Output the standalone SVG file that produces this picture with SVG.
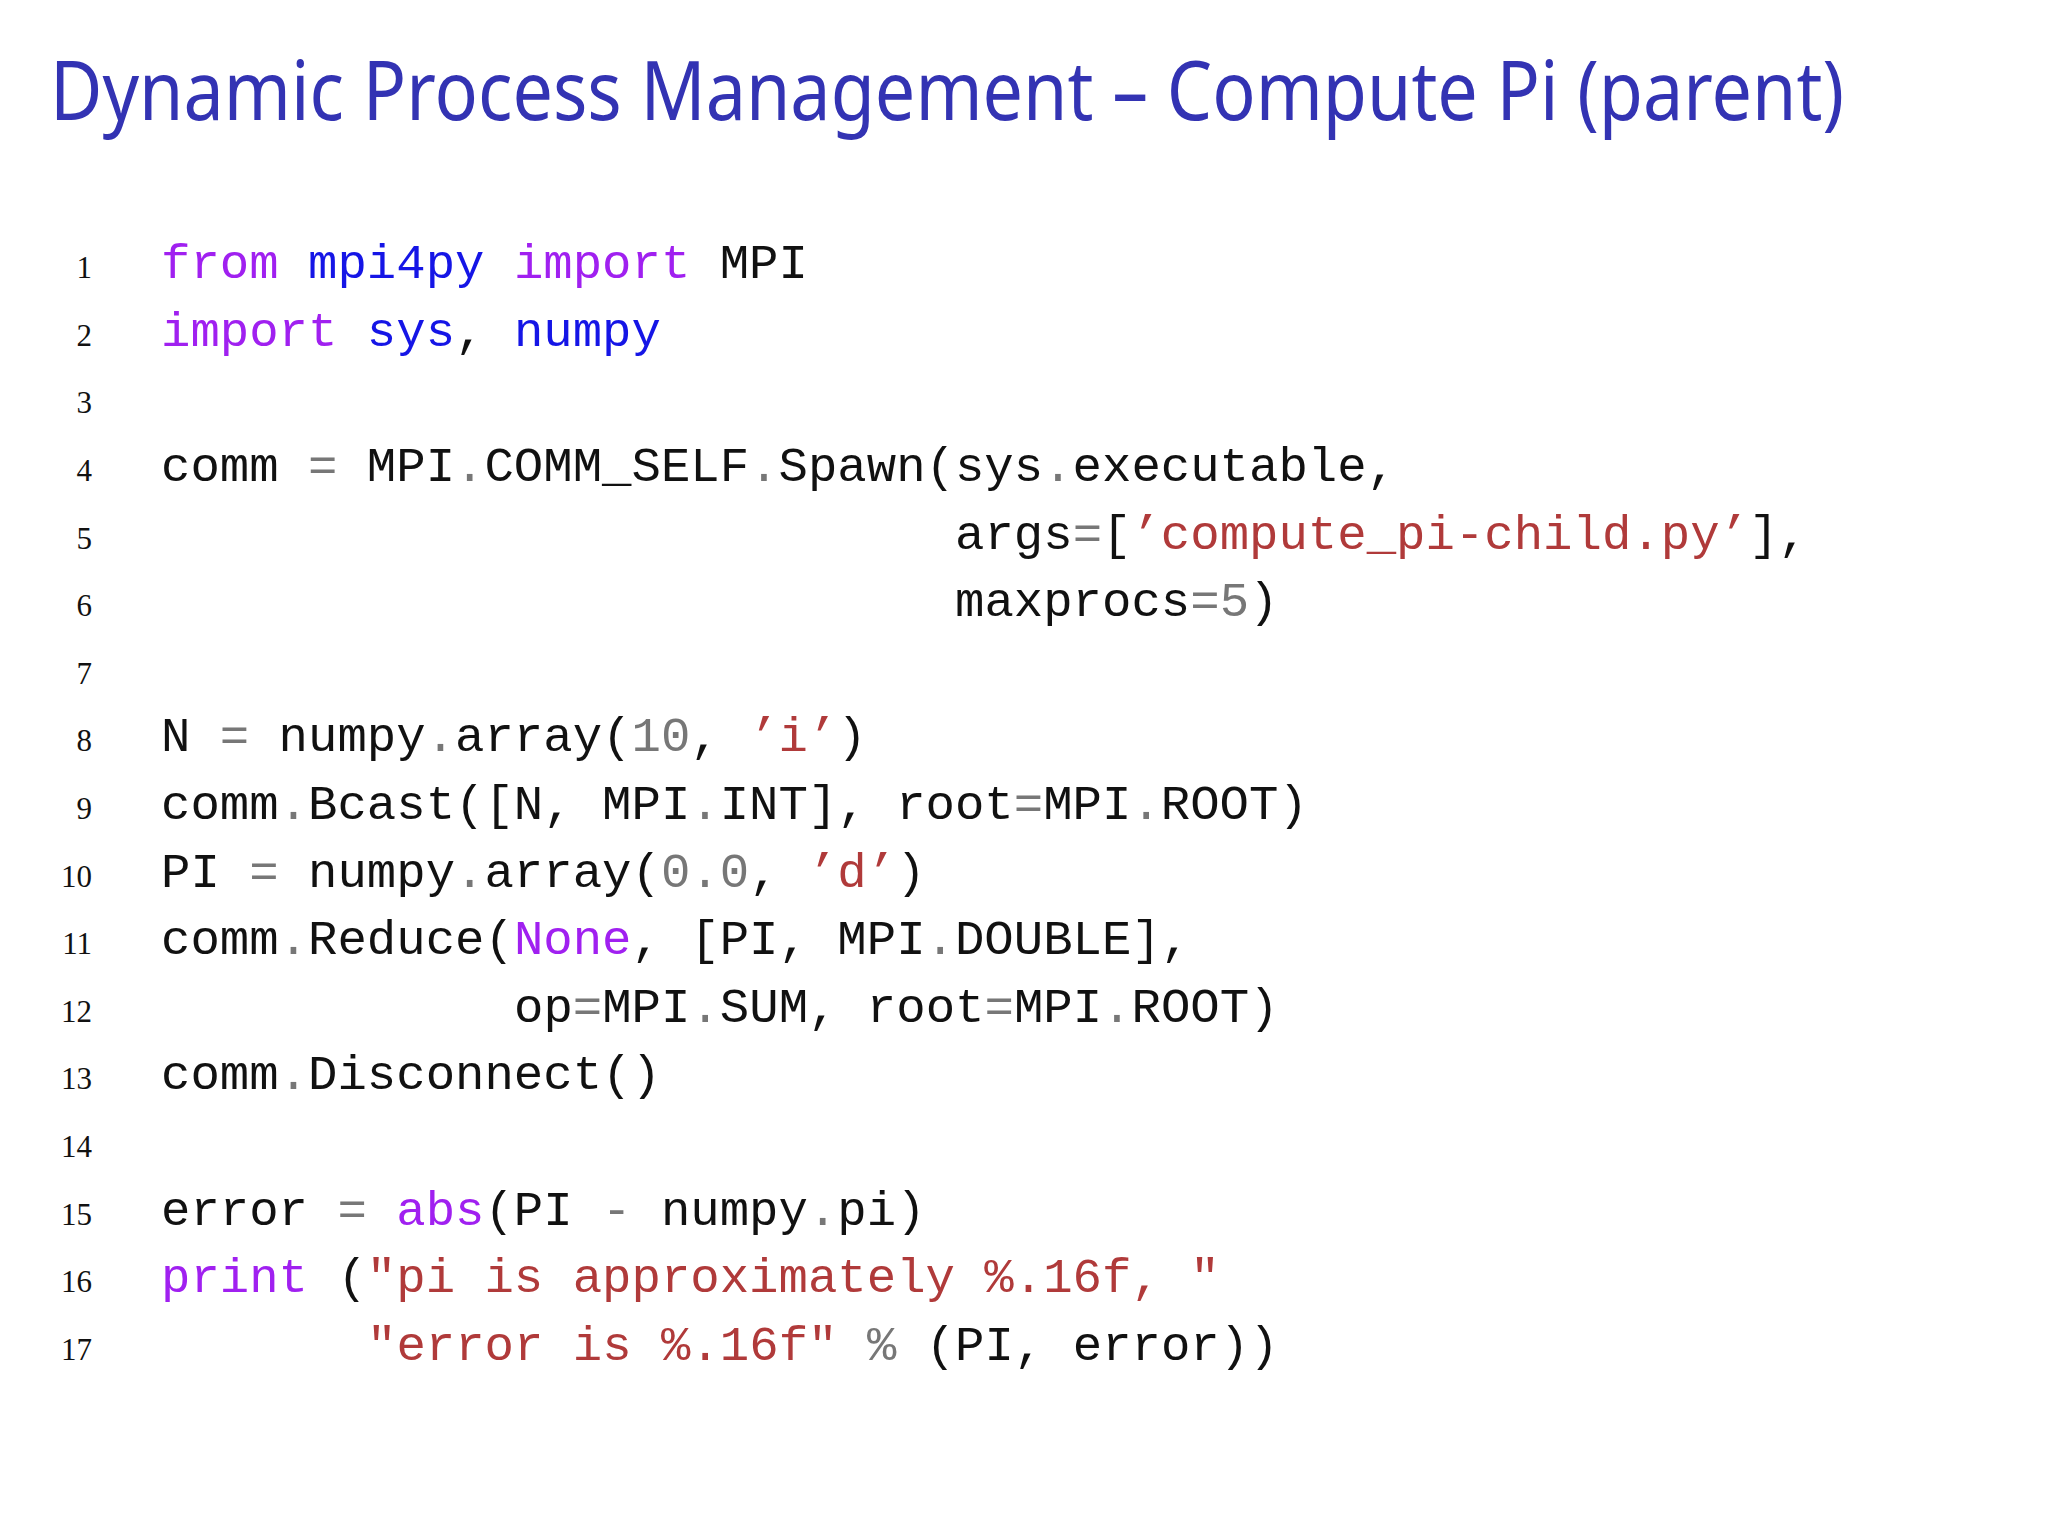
<svg xmlns="http://www.w3.org/2000/svg" width="2048" height="1536" viewBox="0 0 2048 1536">
<style>
.t{font-family:"Noto Sans","DejaVu Sans",sans-serif;font-size:82px;fill:#3333b3}
.c{font-family:"Liberation Mono","DejaVu Sans Mono",monospace;font-size:49px;fill:#111}
.n{font-family:"Liberation Serif",serif;font-size:31px;fill:#111;text-anchor:end}
.k{fill:#a020f0}.m{fill:#1515e6}.s{fill:#b03a3a}.g{fill:#777}
</style>
<rect width="2048" height="1536" fill="#fff"/>
<text class="t" x="50" y="120" textLength="1794" lengthAdjust="spacingAndGlyphs">Dynamic Process Management – Compute Pi (parent)</text>
<g id="linenos">
<text class="n" x="92" y="278">1</text><text class="n" x="92" y="346">2</text><text class="n" x="92" y="413">3</text>
<text class="n" x="92" y="481">4</text><text class="n" x="92" y="549">5</text><text class="n" x="92" y="616">6</text>
<text class="n" x="92" y="684">7</text><text class="n" x="92" y="751">8</text><text class="n" x="92" y="819">9</text>
<text class="n" x="92" y="887">10</text><text class="n" x="92" y="954">11</text><text class="n" x="92" y="1022">12</text>
<text class="n" x="92" y="1089">13</text><text class="n" x="92" y="1157">14</text><text class="n" x="92" y="1225">15</text>
<text class="n" x="92" y="1292">16</text><text class="n" x="92" y="1360">17</text>
</g>
<g id="code" xml:space="preserve">
<text class="c" x="161" y="278"><tspan class="k">from</tspan> <tspan class="m">mpi4py</tspan> <tspan class="k">import</tspan> MPI</text>
<text class="c" x="161" y="346"><tspan class="k">import</tspan> <tspan class="m">sys</tspan>, <tspan class="m">numpy</tspan></text>
<text class="c" x="161" y="481">comm <tspan class="g">=</tspan> MPI<tspan class="g">.</tspan>COMM_SELF<tspan class="g">.</tspan>Spawn(sys<tspan class="g">.</tspan>executable,</text>
<text class="c" x="955" y="549">args<tspan class="g">=</tspan>[<tspan class="s">’compute_pi-child.py’</tspan>],</text>
<text class="c" x="955" y="616">maxprocs<tspan class="g">=5</tspan>)</text>
<text class="c" x="161" y="751">N <tspan class="g">=</tspan> numpy<tspan class="g">.</tspan>array(<tspan class="g">10</tspan>, <tspan class="s">’i’</tspan>)</text>
<text class="c" x="161" y="819">comm<tspan class="g">.</tspan>Bcast([N, MPI<tspan class="g">.</tspan>INT], root<tspan class="g">=</tspan>MPI<tspan class="g">.</tspan>ROOT)</text>
<text class="c" x="161" y="887">PI <tspan class="g">=</tspan> numpy<tspan class="g">.</tspan>array(<tspan class="g">0.0</tspan>, <tspan class="s">’d’</tspan>)</text>
<text class="c" x="161" y="954">comm<tspan class="g">.</tspan>Reduce(<tspan class="k">None</tspan>, [PI, MPI<tspan class="g">.</tspan>DOUBLE],</text>
<text class="c" x="514" y="1022">op<tspan class="g">=</tspan>MPI<tspan class="g">.</tspan>SUM, root<tspan class="g">=</tspan>MPI<tspan class="g">.</tspan>ROOT)</text>
<text class="c" x="161" y="1089">comm<tspan class="g">.</tspan>Disconnect()</text>
<text class="c" x="161" y="1225">error <tspan class="g">=</tspan> <tspan class="k">abs</tspan>(PI <tspan class="g">-</tspan> numpy<tspan class="g">.</tspan>pi)</text>
<text class="c" x="161" y="1292"><tspan class="k">print</tspan> (<tspan class="s">"pi is approximately %.16f, "</tspan></text>
<text class="c" x="367" y="1360"><tspan class="s">"error is %.16f"</tspan> <tspan class="g">%</tspan> (PI, error))</text>
</g>
</svg>
